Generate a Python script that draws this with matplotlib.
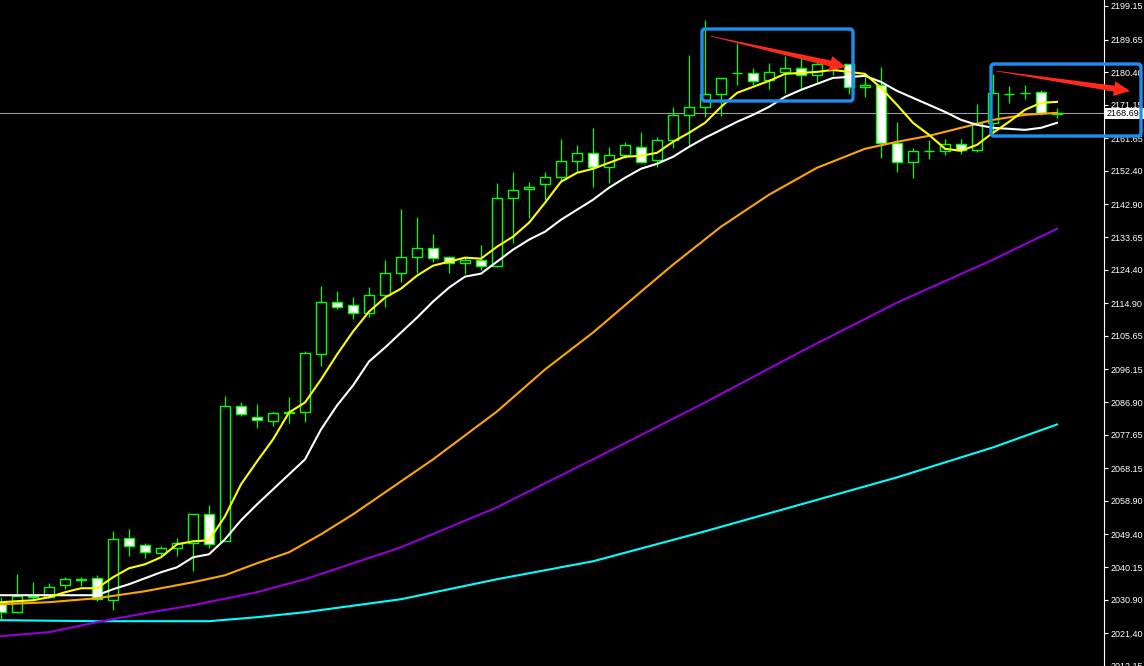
import numpy as np
import matplotlib
matplotlib.use("Agg")
import matplotlib.pyplot as plt
from matplotlib.patches import FancyBboxPatch, Polygon, Rectangle

# свечи: open / high / low / close
opens = [2029.61, 2027.35, 2031.59, 2031.59, 2034.99, 2036.55, 2036.97, 2030.74, 2048.29, 2046.31,
         2044.05, 2045.46, 2046.88, 2055.08, 2047.44, 2085.65, 2082.54, 2081.41, 2083.81, 2083.95,
         2100.65, 2115.37, 2114.52, 2112.26, 2117.35, 2123.58, 2128.11, 2130.66, 2128.11, 2126.41,
         2127.26, 2125.56, 2144.81, 2147.36, 2148.77, 2150.75, 2155.28, 2157.54, 2153.58, 2156.98,
         2159.24, 2155.56, 2161.22, 2168.30, 2170.56, 2174.24, 2180.05, 2180.19, 2178.21, 2180.47,
         2181.60, 2179.62, 2180.90, 2182.74, 2176.23, 2176.79, 2160.38, 2155.00, 2157.97, 2158.11,
         2160.09, 2158.39, 2166.04, 2174.10, 2174.39, 2174.81, 2168.62]
highs = [2031.59, 2038.10, 2035.84, 2035.56, 2037.25, 2037.25, 2037.82, 2050.27, 2050.84, 2046.88,
         2046.03, 2048.29, 2055.08, 2057.63, 2088.48, 2086.78, 2086.22, 2083.95, 2088.20, 2101.50,
         2119.90, 2118.49, 2116.79, 2119.62, 2127.26, 2141.69, 2139.43, 2134.62, 2128.39, 2128.11,
         2131.51, 2149.05, 2152.17, 2149.34, 2152.17, 2161.51, 2159.81, 2164.62, 2159.24, 2160.66,
         2163.49, 2162.07, 2170.56, 2185.28, 2195.19, 2178.77, 2188.68, 2181.60, 2183.02, 2185.00,
         2185.57, 2183.58, 2184.72, 2182.74, 2179.06, 2181.89, 2166.32, 2158.96, 2161.22, 2161.51,
         2161.51, 2171.41, 2179.91, 2176.51, 2176.79, 2175.38, 2170.28]
lows = [2025.37, 2027.06, 2031.03, 2031.31, 2033.86, 2034.71, 2030.46, 2027.91, 2043.20, 2042.63,
        2043.20, 2043.20, 2038.95, 2045.46, 2047.44, 2082.82, 2079.43, 2079.99, 2080.84, 2081.12,
        2097.26, 2113.39, 2110.56, 2111.13, 2113.96, 2121.03, 2123.58, 2126.69, 2123.58, 2123.30,
        2124.43, 2125.28, 2132.07, 2139.15, 2144.24, 2149.34, 2152.17, 2147.92, 2149.05, 2156.13,
        2154.71, 2153.58, 2158.96, 2159.81, 2167.73, 2168.02, 2176.79, 2176.79, 2175.66, 2174.53,
        2175.38, 2177.64, 2179.62, 2174.24, 2173.40, 2156.13, 2152.17, 2150.47, 2155.85, 2156.98,
        2157.26, 2157.83, 2163.21, 2171.70, 2172.83, 2168.30, 2167.45]
closes = [2027.35, 2031.88, 2031.88, 2034.42, 2036.69, 2036.69, 2031.03, 2048.01, 2046.03, 2044.33,
          2045.46, 2046.88, 2055.08, 2046.59, 2085.65, 2083.39, 2081.69, 2083.67, 2083.95, 2100.94,
          2115.37, 2113.96, 2112.26, 2117.35, 2123.58, 2128.11, 2130.66, 2127.83, 2126.41, 2127.26,
          2125.56, 2144.81, 2147.07, 2147.92, 2150.75, 2155.28, 2157.54, 2153.58, 2156.98, 2159.81,
          2155.00, 2161.22, 2168.30, 2170.56, 2174.24, 2178.77, 2180.19, 2177.92, 2180.47, 2181.60,
          2179.62, 2182.74, 2181.04, 2176.23, 2176.79, 2160.38, 2155.00, 2158.11, 2158.11, 2160.09,
          2158.39, 2166.04, 2174.53, 2174.24, 2174.53, 2168.75, 2168.69]

# скользящие средние
ma_yellow = [2030.18, 2030.46, 2030.74, 2031.59, 2033.01, 2034.14, 2034.14, 2037.25, 2039.80, 2040.93,
             2042.91, 2046.59, 2047.44, 2047.73, 2054.52, 2063.58, 2070.09, 2076.31, 2083.95, 2086.78,
             2093.29, 2100.37, 2106.88, 2112.54, 2116.50, 2119.05, 2122.73, 2125.56, 2126.69, 2127.83,
             2127.54, 2130.94, 2133.77, 2137.73, 2143.39, 2149.34, 2151.88, 2153.02, 2154.71, 2156.41,
             2156.70, 2157.54, 2160.66, 2163.21, 2166.04, 2170.56, 2174.53, 2176.23, 2177.92, 2179.91,
             2180.19, 2180.47, 2181.04, 2180.47, 2179.91, 2175.94, 2171.13, 2166.04, 2162.64, 2158.68,
             2158.11, 2159.81, 2163.21, 2166.32, 2169.72, 2171.70, 2171.98]
ma_white = [2032.16, 2032.16, 2032.16, 2032.16, 2032.16, 2032.16, 2032.16, 2033.86, 2035.27, 2036.97,
            2038.67, 2040.08, 2042.91, 2043.76, 2048.01, 2053.39, 2057.91, 2062.16, 2066.41, 2070.65,
            2079.14, 2085.94, 2091.60, 2098.39, 2102.35, 2106.60, 2110.84, 2115.37, 2119.33, 2122.45,
            2123.30, 2126.69, 2130.09, 2132.92, 2135.18, 2138.58, 2141.41, 2144.24, 2147.64, 2150.47,
            2153.02, 2154.43, 2156.41, 2159.24, 2161.79, 2164.05, 2166.32, 2168.30, 2170.56, 2173.40,
            2175.38, 2177.08, 2178.77, 2179.06, 2179.34, 2177.64, 2175.09, 2173.11, 2171.13, 2169.15,
            2166.89, 2165.47, 2164.62, 2164.34, 2164.05, 2164.62, 2166.04]
orange_idx = [0, 3, 6, 9, 12, 14, 16, 18, 20, 22, 25, 27, 31, 34, 37, 40, 42, 45, 48, 51, 54, 56, 58, 60, 62, 64, 66]
ma_orange = [2029.61, 2030.18, 2031.31, 2033.29, 2035.84, 2037.82, 2041.22, 2044.33, 2049.42, 2055.08,
             2064.43, 2070.65, 2084.24, 2096.13, 2106.60, 2118.20, 2125.84, 2136.60, 2145.66, 2153.30,
             2158.68, 2160.66, 2162.36, 2164.62, 2166.89, 2168.30, 2168.87]
purple_idx = [0, 3, 6, 9, 12, 16, 19, 25, 31, 37, 44, 50, 56, 62, 66]
ma_purple = [2020.55, 2021.69, 2024.52, 2027.06, 2029.33, 2033.01, 2036.69, 2045.74, 2057.07, 2070.65,
             2086.78, 2101.22, 2115.09, 2127.26, 2136.03]
cyan_idx = [0, 6, 13, 16, 19, 25, 31, 37, 44, 50, 56, 62, 66]
ma_cyan = [2025.08, 2024.80, 2024.80, 2025.93, 2027.35, 2031.03, 2036.69, 2041.78, 2050.27, 2057.91,
           2065.56, 2074.05, 2080.56]

price_ticks = [2199.15, 2189.65, 2180.40, 2171.15, 2161.65, 2152.40, 2142.90, 2133.65, 2124.40, 2114.90,
               2105.65, 2096.15, 2086.90, 2077.65, 2068.15, 2058.90, 2049.40, 2040.15, 2030.90, 2021.40, 2012.15]
last_price = 2168.69

W, H = 1144, 666
fig = plt.figure(figsize=(W / 100, H / 100), dpi=100, facecolor="black")
ax = fig.add_axes([0, 0, 1104 / W, 1], facecolor="black")

n = len(opens)
x = np.arange(n)
o = np.array(opens); c = np.array(closes)
green = "#00ff00"

ax.vlines(x, lows, highs, color=green, lw=0.9, zorder=2)
fill = ["white" if cc < oo else "black" for oo, cc in zip(o, c)]
ax.bar(x, np.abs(c - o), bottom=np.minimum(o, c), width=0.6, color=fill,
       edgecolor=green, linewidth=1.0, zorder=3)

ax.plot(cyan_idx, ma_cyan, color="#00ffff", lw=1.5, zorder=4)
ax.plot(purple_idx, ma_purple, color="#9400d3", lw=1.5, zorder=4)
ax.plot(orange_idx, ma_orange, color="#ffa500", lw=1.5, zorder=4)
ax.plot(x, ma_white, color="white", lw=1.5, zorder=4)
ax.plot(x, ma_yellow, color="#ffff00", lw=1.5, zorder=5)

ax.axhline(last_price, color="#9a9a9a", lw=0.8, zorder=1)

ax.set_xlim(-1 / 16, 1103 / 16)
ax.set_ylim(2012.1, 2200.85)
ax.set_xticks([])
ax.yaxis.tick_right()
ax.set_yticks(price_ticks)
ax.set_yticklabels(["%.2f" % v for v in price_ticks])
ax.tick_params(axis="y", colors="white", length=3, width=0.8, pad=2, labelsize=6.5)
for lab in ax.get_yticklabels():
    lab.set_family("Liberation Sans")
for s in ["top", "left", "bottom"]:
    ax.spines[s].set_visible(False)
ax.spines["right"].set_color("white")
ax.spines["right"].set_linewidth(0.8)

# слой для пометок в пикселях
ov = fig.add_axes([0, 0, 1, 1])
ov.set_xlim(0, W)
ov.set_ylim(H, 0)
ov.axis("off")
ov.patch.set_alpha(0)

ov.add_patch(Rectangle((1105, 108), 39, 11, facecolor="white", edgecolor="none"))
ov.text(1107, 113.8, "%.2f" % last_price, color="black", fontsize=6.5, va="center",
        family="Liberation Sans")

blue = "#1e8ff0"
for (x0, y0, x1, y1) in [(702, 29, 853, 101), (991, 64, 1141, 136)]:
    ov.add_patch(FancyBboxPatch((x0, y0), x1 - x0, y1 - y0, boxstyle="round,pad=0,rounding_size=3",
                                facecolor="none", edgecolor=blue, lw=2.4))


def red_arrow(x0, y0, x1, y1, w=3.0, hw=7.5, hl=16.0):
    d = np.array([x1 - x0, y1 - y0], float)
    L = np.hypot(*d)
    u = d / L
    nrm = np.array([-u[1], u[0]])
    tail = np.array([x0, y0], float)
    tip = np.array([x1, y1], float)
    base = tip - u * hl
    pts = [tail + nrm * 0.3, base + nrm * w, base + nrm * hw, tip,
           base - nrm * hw, base - nrm * w, tail - nrm * 0.3]
    ov.add_patch(Polygon(pts, closed=True, facecolor="#ff2a1a", edgecolor="none"))


red_arrow(710, 36, 846, 67)
red_arrow(996, 71, 1130, 91)

fig.savefig("out.png", dpi=100, facecolor="black")
